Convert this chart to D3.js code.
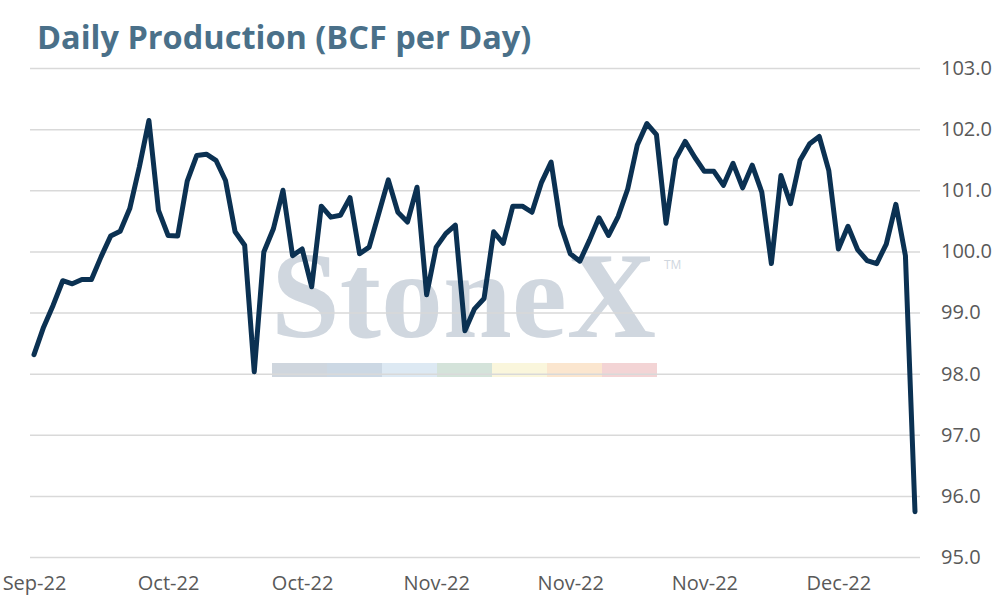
<!DOCTYPE html>
<html>
<head>
<meta charset="utf-8">
<script src="https://cdn.jsdelivr.net/npm/d3@7"></script>
<style>
  body { margin: 0; background: #fff; }
  svg { display: block; }
  .axis text { font-family: "Open Sans", sans-serif; font-size: 20px; fill: #595959; }
  .grid line { stroke: #d9d9d9; stroke-width: 1.5; }
</style>
</head>
<body>
<div id="chart"></div>
<script>
// daily dry gas production, BCF per day, starting 20 Sep 2022
const startDate = new Date(2022, 8, 20);
const production = [
  98.31, 98.76, 99.12, 99.52, 99.47, 99.54, 99.54, 99.91, 100.25, 100.33,
  100.70, 101.38, 102.14, 100.67, 100.26, 100.25, 101.15, 101.57, 101.59, 101.49,
  101.16, 100.32, 100.10, 98.03, 99.99, 100.37, 101.00, 99.93, 100.04, 99.42,
  100.74, 100.56, 100.59, 100.88, 99.96, 100.07, 100.62, 101.17, 100.64, 100.48,
  101.05, 99.29, 100.07, 100.29, 100.43, 98.70, 99.06, 99.23, 100.32, 100.13,
  100.74, 100.74, 100.64, 101.13, 101.46, 100.43, 99.96, 99.84, 100.18, 100.55,
  100.26, 100.57, 101.02, 101.74, 102.09, 101.91, 100.46, 101.51, 101.80, 101.54,
  101.31, 101.31, 101.08, 101.44, 101.04, 101.41, 100.97, 99.80, 101.24, 100.78,
  101.49, 101.76, 101.88, 101.32, 100.04, 100.41, 100.03, 99.85, 99.80, 100.12,
  100.77, 99.93, 95.74
];
const tickDates = ["2022-09-20", "2022-10-04", "2022-10-18", "2022-11-01", "2022-11-15", "2022-11-29", "2022-12-13"];
const yTicks = [95, 96, 97, 98, 99, 100, 101, 102, 103];
const chartTitle = "Daily Production (BCF per Day)";

const width = 998, height = 600;
const plot = { left: 30, right: 920, top: 68, bottom: 557, lineStart: 34, lineEnd: 915 };
const watermarkColors = ["#cfd6de", "#ccd8e4", "#dde9f3", "#d4e3da", "#faf6dc", "#fbe6cf", "#f3d4d5"];

const parseDay = d3.timeParse("%Y-%m-%d");
const dates = d3.timeDay.range(startDate, d3.timeDay.offset(startDate, production.length));
const data = production.map((v, i) => ({ date: dates[i], value: v }));

const x = d3.scaleTime()
  .domain([dates[0], dates[dates.length - 1]])
  .range([plot.lineStart, plot.lineEnd]);

const y = d3.scaleLinear()
  .domain([d3.min(yTicks), d3.max(yTicks)])
  .range([plot.bottom, plot.top]);

const svg = d3.select("#chart").append("svg")
  .attr("width", width)
  .attr("height", height)
  .attr("viewBox", `0 0 ${width} ${height}`);

// title
svg.append("text")
  .attr("x", 37)
  .attr("y", 49)
  .attr("font-family", "Open Sans, sans-serif")
  .attr("font-weight", "bold")
  .attr("font-size", 32.5)
  .attr("fill", "#4a7089")
  .text(chartTitle);

// StoneX watermark sits behind the grid
const wm = svg.append("g").attr("class", "watermark");
wm.append("text")
  .attr("x", 271)
  .attr("y", 337)
  .attr("font-family", "Liberation Serif, serif")
  .attr("font-weight", "bold")
  .attr("font-size", 122)
  .attr("textLength", 385)
  .attr("lengthAdjust", "spacingAndGlyphs")
  .attr("fill", "#d0d7df")
  .text("StoneX");
wm.append("text")
  .attr("x", 664)
  .attr("y", 269)
  .attr("font-family", "Open Sans, sans-serif")
  .attr("font-size", 12)
  .attr("fill", "#cfd6de")
  .text("TM");
wm.selectAll("rect")
  .data(watermarkColors)
  .enter()
  .append("rect")
  .attr("x", (d, i) => 272 + i * 55)
  .attr("y", 363)
  .attr("width", 55)
  .attr("height", 14)
  .attr("fill", d => d);

// horizontal gridlines
svg.append("g")
  .attr("class", "grid")
  .attr("transform", `translate(${plot.left},0)`)
  .call(d3.axisRight(y).tickValues(yTicks).tickSize(plot.right - plot.left).tickFormat(""))
  .call(g => g.select(".domain").remove());

// right value axis
svg.append("g")
  .attr("class", "axis")
  .attr("transform", `translate(${plot.right},0)`)
  .call(d3.axisRight(y).tickValues(yTicks).tickSize(0).tickPadding(21).tickFormat(d3.format(".1f")))
  .call(g => g.select(".domain").remove());

// date axis
svg.append("g")
  .attr("class", "axis")
  .attr("transform", `translate(0,${plot.bottom})`)
  .call(d3.axisBottom(x).tickValues(tickDates.map(parseDay)).tickSize(0).tickPadding(19).tickFormat(d3.timeFormat("%b-%y")))
  .call(g => g.select(".domain").remove());

const line = d3.line()
  .x(d => x(d.date))
  .y(d => y(d.value));

svg.append("path")
  .datum(data)
  .attr("fill", "none")
  .attr("stroke", "#0b3152")
  .attr("stroke-width", 5)
  .attr("stroke-linejoin", "round")
  .attr("stroke-linecap", "round")
  .attr("d", line);
</script>
</body>
</html>
